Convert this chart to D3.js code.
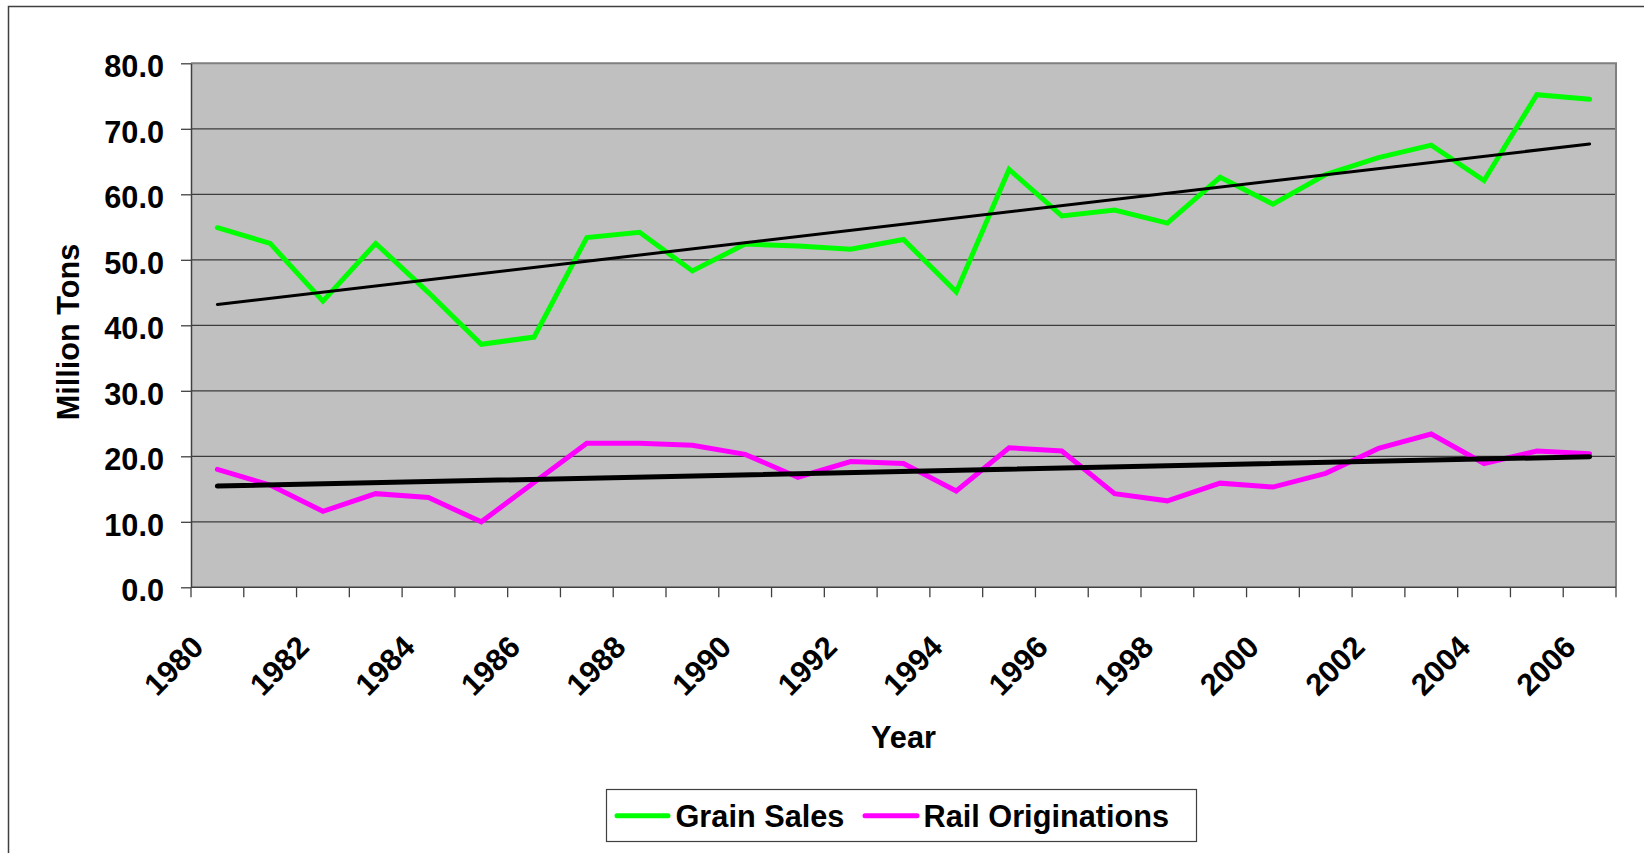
<!DOCTYPE html>
<html><head><meta charset="utf-8">
<script src="https://cdn.jsdelivr.net/npm/d3@7"></script>
<style>
html,body{margin:0;padding:0;background:#fff;overflow:hidden}
svg{display:block}
text{font-family:"Liberation Sans",Arial,Helvetica,sans-serif;font-weight:bold;fill:#000}
</style></head><body>
<svg id="c" width="1644" height="853"></svg>
<script>
// ---- data ----
const years = [1980,1981,1982,1983,1984,1985,1986,1987,1988,1989,1990,1991,1992,1993,1994,1995,1996,1997,1998,1999,2000,2001,2002,2003,2004,2005,2006];
const grainSales = [54.9,52.5,43.7,52.5,45.0,37.1,38.2,53.4,54.2,48.3,52.4,52.1,51.6,53.1,45.1,63.8,56.7,57.6,55.6,62.6,58.5,63.0,65.6,67.5,62.1,75.2,74.5];
const railOriginations = [18.0,15.6,11.6,14.3,13.7,10.0,16.0,22.0,22.0,21.7,20.3,16.8,19.2,18.9,14.7,21.3,20.8,14.3,13.2,15.9,15.3,17.4,21.2,23.4,18.9,20.8,20.4];
const yTicks = [0,10,20,30,40,50,60,70,80];
const xLabelYears = [1980,1982,1984,1986,1988,1990,1992,1994,1996,1998,2000,2002,2004,2006];
const seriesNames = ["Grain Sales","Rail Originations"];
const seriesColors = ["#00ff00","#ff00ff"];
const yTitle = "Million Tons";
const xTitle = "Year";

// ---- layout ----
const plot = {left:191, right:1616, top:63.3, bottom:587.3};
const FS = "30.7px";
const svg = d3.select("#c");

const x = d3.scaleBand().domain(years).range([plot.left, plot.right]).padding(0);
const bw = x.bandwidth();
const y = d3.scaleLinear().domain([0,80]).range([plot.bottom, plot.top]);
const cx = d => x(d) + bw/2;

// outer frame
svg.append("rect").attr("x",8.5).attr("y",6.5).attr("width",1700).attr("height",900)
  .attr("fill","none").attr("stroke","#404040").attr("stroke-width",1.5);

// plot background
svg.append("rect").attr("x",plot.left).attr("y",plot.top)
  .attr("width",plot.right-plot.left).attr("height",plot.bottom-plot.top)
  .attr("fill","#c0c0c0");

// gridlines
svg.append("g").selectAll("line").data(yTicks.filter(d=>d>0 && d<80)).join("line")
  .attr("x1",plot.left).attr("x2",plot.right)
  .attr("y1",d=>y(d)).attr("y2",d=>y(d))
  .attr("stroke","#3c3c3c").attr("stroke-width",1.3);

// plot border (top/right)
svg.append("path")
  .attr("d",`M${plot.left},${plot.top}H${plot.right}V${plot.bottom}`)
  .attr("fill","none").attr("stroke","#808080").attr("stroke-width",2);

// y axis
const gy = svg.append("g").attr("transform",`translate(${plot.left},0)`)
  .call(d3.axisLeft(y).tickValues(yTicks).tickSize(10).tickSizeOuter(0).tickPadding(17).tickFormat(d3.format(".1f")));
gy.select(".domain").attr("stroke","#404040").attr("stroke-width",1.5);
gy.selectAll(".tick line").attr("stroke","#404040").attr("stroke-width",1.3);
gy.selectAll(".tick text").attr("dy","0.44em").style("font-size",FS)
  .style("font-family",'"Liberation Sans",Arial,sans-serif').style("font-weight","bold").attr("fill","#000");

// x axis line and boundary ticks
svg.append("line").attr("x1",plot.left).attr("x2",plot.right)
  .attr("y1",plot.bottom).attr("y2",plot.bottom)
  .attr("stroke","#404040").attr("stroke-width",1.5);
const bounds = years.map(d=>x(d)).concat([plot.right]);
svg.append("g").selectAll("line").data(bounds).join("line")
  .attr("x1",d=>d).attr("x2",d=>d)
  .attr("y1",plot.bottom).attr("y2",plot.bottom+10)
  .attr("stroke","#404040").attr("stroke-width",1.3);

// x labels
svg.append("g").selectAll("text").data(xLabelYears).join("text")
  .attr("transform",d=>`translate(${cx(d)-12},649) rotate(-45)`)
  .attr("text-anchor","end").style("font-size",FS).text(d=>d);

// titles
svg.append("text").attr("x",(plot.left+plot.right)/2).attr("y",748)
  .attr("text-anchor","middle").style("font-size",FS).text(xTitle);
svg.append("text").attr("transform","translate(79,332) rotate(-90)")
  .attr("text-anchor","middle").style("font-size",FS).text(yTitle);

// series
const allSeries = [grainSales, railOriginations];
const line = d3.line().x(d=>cx(d[0])).y(d=>y(d[1]));
allSeries.forEach((vals,k)=>{
  svg.append("path").datum(years.map((yr,i)=>[yr,vals[i]]))
    .attr("d",line).attr("fill","none").attr("stroke",seriesColors[k])
    .attr("stroke-width",5).attr("stroke-linejoin","miter").attr("stroke-linecap","round");
});

// linear trend lines (least squares)
function trend(vals){
  const n = vals.length;
  const mx = d3.mean(vals,(v,i)=>i), my = d3.mean(vals);
  let sxy=0, sxx=0;
  vals.forEach((v,i)=>{sxy+=(i-mx)*(v-my); sxx+=(i-mx)*(i-mx);});
  const b = sxy/sxx, a = my - b*mx;
  return [[years[0], a], [years[n-1], a + b*(n-1)]];
}
const trendWidths = [3, 5];
allSeries.forEach((vals,k)=>{
  svg.append("path").datum(trend(vals))
    .attr("d",line).attr("fill","none").attr("stroke","#000")
    .attr("stroke-width",trendWidths[k]).attr("stroke-linecap","round");
});

// legend
const lg = svg.append("g");
lg.append("rect").attr("x",606.5).attr("y",789.5).attr("width",590).attr("height",52)
  .attr("fill","#fff").attr("stroke","#404040").attr("stroke-width",1.2);
const legendItems = [{x1:617,x2:668,tx:675.5},{x1:865,x2:917,tx:923.5}];
legendItems.forEach((it,k)=>{
  lg.append("line").attr("x1",it.x1).attr("x2",it.x2).attr("y1",815.7).attr("y2",815.7)
    .attr("stroke",seriesColors[k]).attr("stroke-width",5).attr("stroke-linecap","round");
  lg.append("text").attr("x",it.tx).attr("y",826.5).style("font-size",FS).text(seriesNames[k]);
});
</script>
</body></html>
